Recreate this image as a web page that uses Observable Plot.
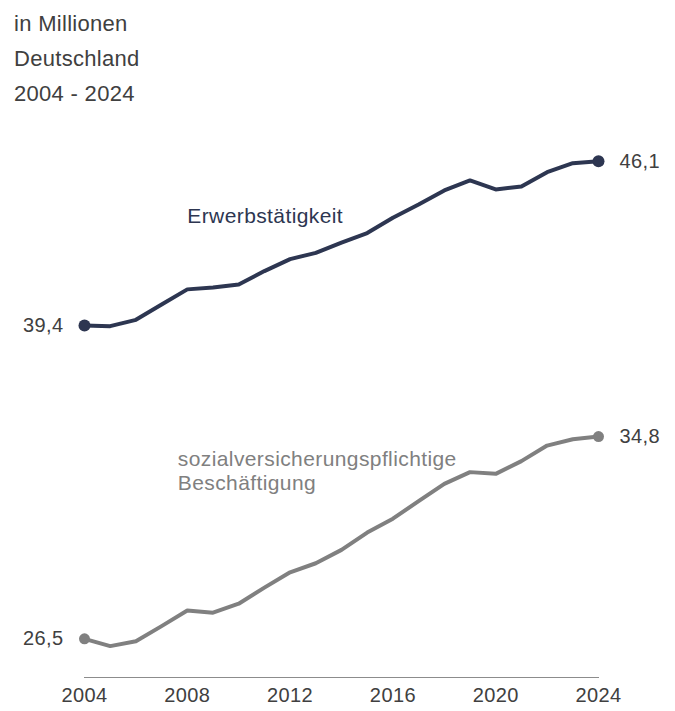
<!DOCTYPE html>
<html>
<head>
<meta charset="utf-8">
<script src="https://cdn.jsdelivr.net/npm/d3@7"></script>
<script src="https://cdn.jsdelivr.net/npm/@observablehq/plot@0.6"></script>
<style>
  html, body { margin: 0; padding: 0; background: #fff; }
  body { width: 675px; height: 711px; overflow: hidden; font-family: "Liberation Sans", Arial, sans-serif; }
  #head { height: 110px; box-sizing: border-box; padding: 6px 0 0 14px; color: #404040; font-size: 22px; letter-spacing: 0.3px; line-height: 35px; }
  #chart svg { display: block; }
  #chart svg text { letter-spacing: 0.4px; }
</style>
</head>
<body>
<div id="head">
  <div>in Millionen</div>
  <div>Deutschland</div>
  <div>2004 - 2024</div>
</div>
<div id="chart"></div>
<script>
const years = [2004, 2005, 2006, 2007, 2008, 2009, 2010, 2011, 2012, 2013, 2014, 2015, 2016, 2017, 2018, 2019, 2020, 2021, 2022, 2023, 2024];
const erwerbstaetige = [39.36, 39.33, 39.59, 40.22, 40.84, 40.92, 41.04, 41.59, 42.08, 42.34, 42.76, 43.15, 43.78, 44.32, 44.90, 45.31, 44.94, 45.06, 45.65, 46.02, 46.10];
const svBeschaeftigte = [26.50, 26.20, 26.40, 27.02, 27.66, 27.57, 27.94, 28.60, 29.23, 29.60, 30.15, 30.86, 31.43, 32.15, 32.86, 33.34, 33.27, 33.79, 34.43, 34.69, 34.80];
const xTicks = [2004, 2008, 2012, 2016, 2020, 2024];
const seriesNames = ["Erwerbstätigkeit", "sozialversicherungspflichtige\nBeschäftigung"];

const navy = "#2d3651";
const gray = "#808080";
const textColor = "#404040";

const erwData = years.map((year, i) => ({year, value: erwerbstaetige[i]}));
const svData = years.map((year, i) => ({year, value: svBeschaeftigte[i]}));
const firstOf = (arr) => arr[0];
const lastOf = (arr) => arr[arr.length - 1];
const fmt = (v) => v.toFixed(1).replace(".", ",");

const chart = Plot.plot({
  width: 675,
  height: 601,
  marginLeft: 84,
  marginRight: 77,
  marginTop: 50.7,
  marginBottom: 34,
  style: {fontFamily: "'Liberation Sans', Arial, sans-serif", fontSize: "20px", color: textColor, background: "#fff"},
  x: {domain: [2004, 2024], axis: null},
  y: {domain: [26.5, 46.1], insetBottom: 38.7, axis: null},
  marks: [
    Plot.frame({anchor: "bottom", stroke: "#8c8c8c", strokeWidth: 1}),
    Plot.axisX({ticks: xTicks, tickSize: 0, tickPadding: 10, tickFormat: d => String(d), fill: textColor, fontSize: 20, label: null}),
    Plot.line(erwData, {x: "year", y: "value", stroke: navy, strokeWidth: 4}),
    Plot.line(svData, {x: "year", y: "value", stroke: gray, strokeWidth: 4}),
    Plot.dot([firstOf(erwData), lastOf(erwData)], {x: "year", y: "value", r: 6, fill: navy}),
    Plot.dot([firstOf(svData), lastOf(svData)], {x: "year", y: "value", r: 5.5, fill: gray}),
    Plot.text([firstOf(erwData), firstOf(svData)], {x: "year", y: "value", text: d => fmt(d.value), textAnchor: "end", dx: -21, fill: textColor, fontSize: 20}),
    Plot.text([lastOf(erwData), lastOf(svData)], {x: "year", y: "value", text: d => fmt(d.value), textAnchor: "start", dx: 21, fill: textColor, fontSize: 20}),
    Plot.text([seriesNames[0]], {x: () => 2008, y: () => 43.58, text: d => d, textAnchor: "start", lineAnchor: "bottom", fill: navy, fontSize: 21}),
    Plot.text([seriesNames[1]], {x: () => 2007.63, y: () => 32.59, text: d => d, textAnchor: "start", lineAnchor: "bottom", lineHeight: 1.17, fill: gray, fontSize: 21})
  ]
});
document.getElementById("chart").appendChild(chart);
</script>
</body>
</html>
